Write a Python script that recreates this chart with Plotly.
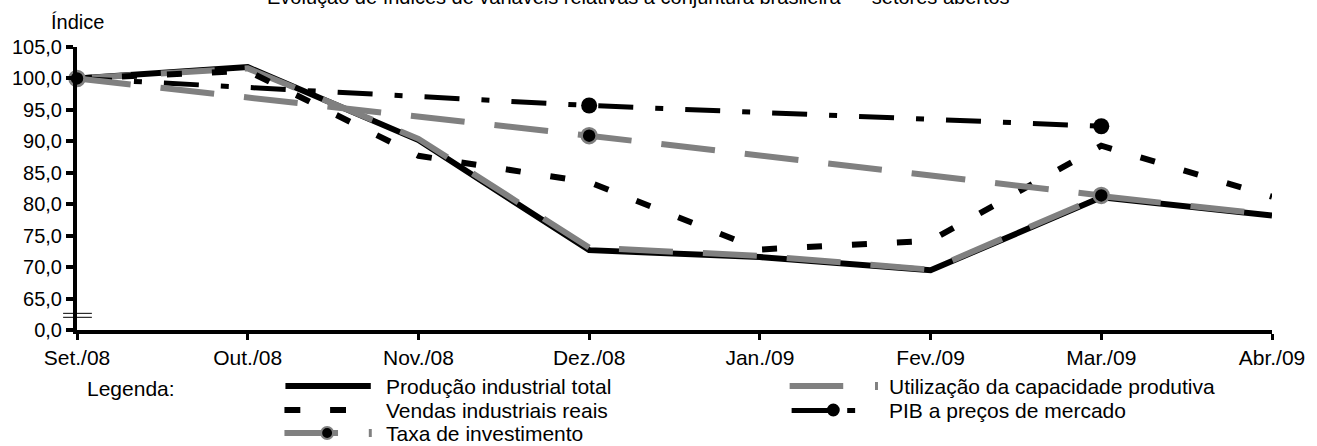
import plotly.graph_objects as go

# ---- data -------------------------------------------------------------
months = ["Set./08", "Out./08", "Nov./08", "Dez./08", "Jan./09", "Fev./09", "Mar./09", "Abr./09"]
quarters = ["Set./08", "Dez./08", "Mar./09"]

producao_industrial = [100.0, 101.8, 90.2, 72.7, 71.6, 69.5, 81.1, 78.2]
utilizacao_capacidade = [100.0, 101.6, 90.4, 73.1, 71.8, 69.6, 81.3, 78.3]
vendas_industriais = [100.0, 101.2, 87.7, 83.5, 72.8, 74.2, 89.3, 81.2]
pib_precos_mercado = [100.0, 95.7, 92.4]
taxa_investimento = [100.0, 90.9, 81.4]

y_tick_values = [60, 65, 70, 75, 80, 85, 90, 95, 100, 105]
y_tick_labels = ["0,0", "65,0", "70,0", "75,0", "80,0", "85,0", "90,0", "95,0", "100,0", "105,0"]

title_text = "Evolução de índices de variáveis relativas à conjuntura brasileira — setores abertos"

# ---- layout geometry ----------------------------------------------------
W, H = 1317, 446
L, R, T, B = 77, 36, 47, 116
PW, PH = W - L - R, H - T - B
FONT = "Liberation Sans, Arial, sans-serif"
GRAY = "#808080"


def px(x):
    return (x - L) / PW


def py(y):
    return (H - B - y) / PH


fig = go.Figure()

fig.add_trace(go.Scatter(
    x=months, y=producao_industrial, mode="lines",
    line=dict(color="black", width=6), name="Produção industrial total"))
fig.add_trace(go.Scatter(
    x=months, y=utilizacao_capacidade, mode="lines",
    line=dict(color=GRAY, width=6, dash="54px,30px"), name="Utilização da capacidade produtiva"))
fig.add_trace(go.Scatter(
    x=months, y=vendas_industriais, mode="lines",
    line=dict(color="black", width=6, dash="15px,30px"), name="Vendas industriais reais"))
fig.add_trace(go.Scatter(
    x=quarters, y=pib_precos_mercado, mode="lines+markers",
    line=dict(color="black", width=5, dash="35px,22px,8px,22px"),
    marker=dict(color="black", size=16, line=dict(width=0)),
    cliponaxis=False, name="PIB a preços de mercado"))
fig.add_trace(go.Scatter(
    x=quarters, y=taxa_investimento, mode="lines+markers",
    line=dict(color=GRAY, width=6, dash="54px,30px"),
    marker=dict(color="black", size=15, line=dict(color=GRAY, width=2.5)),
    cliponaxis=False, name="Taxa de investimento"))

shapes = []
annotations = []

# axis break marks on the value axis
for yb in (62.65, 62.02):
    shapes.append(dict(type="line", xref="paper", yref="y",
                       x0=px(63), x1=px(92), y0=yb, y1=yb,
                       line=dict(color="black", width=1)))

# ---- legend block ---------------------------------------------------------
def hline(x0, x1, y, color, width):
    shapes.append(dict(type="line", xref="paper", yref="paper",
                       x0=px(x0), x1=px(x1), y0=py(y), y1=py(y),
                       line=dict(color=color, width=width)))


def block(x0, x1, y0, y1, color):
    shapes.append(dict(type="rect", xref="paper", yref="paper",
                       x0=px(x0), x1=px(x1), y0=py(y0), y1=py(y1),
                       fillcolor=color, line=dict(width=0)))


def dot(cx, cy, d, fill, border=None, bw=0):
    shapes.append(dict(type="circle", xref="paper", yref="paper",
                       x0=px(cx - d / 2), x1=px(cx + d / 2),
                       y0=py(cy + d / 2), y1=py(cy - d / 2),
                       fillcolor=fill,
                       line=dict(color=border or fill, width=bw)))


def label(x, y, text):
    annotations.append(dict(xref="paper", yref="paper", x=px(x), y=py(y),
                            text=text, showarrow=False, xanchor="left", yanchor="middle",
                            font=dict(family=FONT, size=21, color="black")))


# Produção industrial total
block(287, 373, 383, 389, "black")
label(386, 386, "Produção industrial total")
# Vendas industriais reais
block(286, 302, 407, 413, "black")
block(332, 348, 407, 413, "black")
label(386, 410, "Vendas industriais reais")
# Taxa de investimento
block(286, 340, 430, 436, GRAY)
dot(329, 433, 12, "black", GRAY, 2)
block(371, 374, 429, 437, GRAY)
label(386, 433, "Taxa de investimento")
# Utilização da capacidade produtiva
block(795, 849, 383, 389, GRAY)
block(881, 884, 382, 390, GRAY)
label(893, 386, "Utilização da capacidade produtiva")
# PIB a preços de mercado
block(797, 838, 408, 413, "black")
dot(839, 410, 13, "black")
block(853, 861, 408, 413, "black")
label(893, 410, "PIB a preços de mercado")

annotations.append(dict(xref="paper", yref="paper", x=px(85), y=py(388),
                        text="Legenda:", showarrow=False, xanchor="left", yanchor="middle",
                        font=dict(family=FONT, size=21, color="black")))

# value axis caption and (partially hidden) chart title
annotations.append(dict(xref="paper", yref="paper", x=px(77), y=py(22),
                        text="Índice", showarrow=False, xanchor="center", yanchor="middle",
                        font=dict(family=FONT, size=20, color="black")))
annotations.append(dict(xref="paper", yref="paper", x=px(643), y=py(-3),
                        text=title_text, showarrow=False, xanchor="center", yanchor="middle",
                        font=dict(family=FONT, size=20, color="black")))

fig.update_layout(
    width=W, height=H, autosize=False,
    margin=dict(l=L, r=R, t=T, b=B, pad=0),
    paper_bgcolor="white", plot_bgcolor="white",
    showlegend=False,
    font=dict(family=FONT, size=21, color="black"),
    shapes=shapes, annotations=annotations,
    xaxis=dict(
        type="category", categoryorder="array", categoryarray=months,
        range=[0, 7], showgrid=False, zeroline=False,
        showline=True, linecolor="black", linewidth=4,
        ticks="outside", ticklen=6, tickwidth=3, tickcolor="black",
        tickfont=dict(family=FONT, size=21, color="black"),
    ),
    yaxis=dict(
        range=[60, 105], showgrid=False, zeroline=False,
        showline=True, linecolor="black", linewidth=4,
        tickvals=y_tick_values, ticktext=y_tick_labels,
        ticks="outside", ticklen=7, tickwidth=4, tickcolor="black",
        tickfont=dict(family=FONT, size=20, color="black"),
    ),
)

fig.write_html("out.html")
